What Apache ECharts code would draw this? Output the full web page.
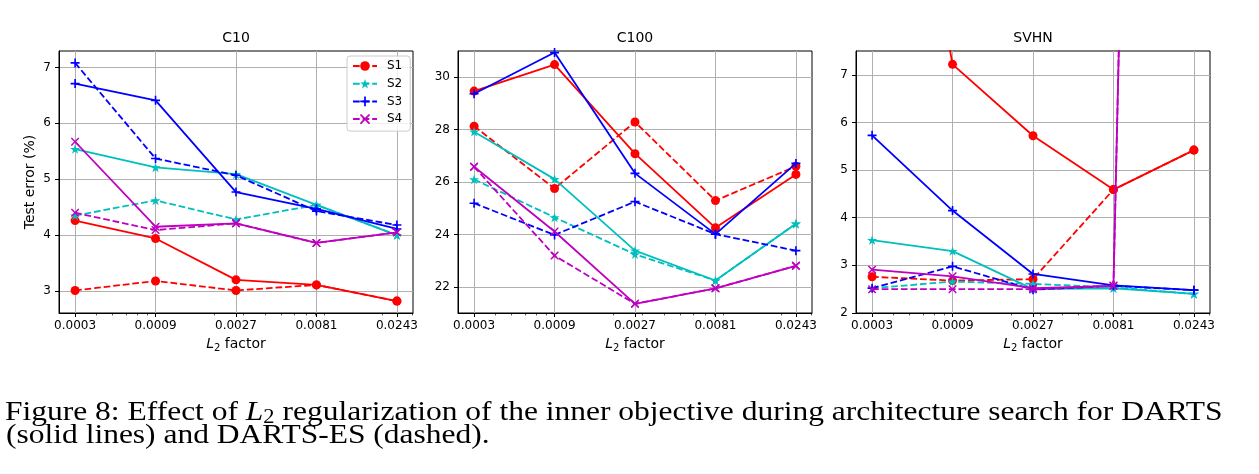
<!DOCTYPE html>
<html>
<head>
<meta charset="utf-8">
<script src="https://cdn.jsdelivr.net/npm/echarts@6/dist/echarts.min.js"></script>
<style>
html,body{margin:0;padding:0;background:#fff;}
#chart{width:1259px;height:474px;}
</style>
</head>
<body>
<div id="chart"></div>
<script>
// ---------- data ----------
const L2_FACTORS = ['0.0003', '0.0009', '0.0027', '0.0081', '0.0243'];
const MINOR_TICK_VALUES = [0.0004,0.0005,0.0006,0.0007,0.0008,0.0009,0.002,0.003,0.004,0.005,0.006,0.007,0.008,0.009,0.02,0.03];
const SERIES_NAMES = ['S1', 'S2', 'S3', 'S4'];
const PANEL_TITLES = ['C10', 'C100', 'SVHN'];

// DARTS (solid lines)
const C10_DARTS_S1 = [4.26, 3.94, 3.20, 3.11, 2.82];
const C10_DARTS_S2 = [5.54, 5.21, 5.09, 4.54, 4.00];
const C10_DARTS_S3 = [6.71, 6.41, 4.77, 4.47, 4.11];
const C10_DARTS_S4 = [5.67, 4.15, 4.21, 3.86, 4.05];
// DARTS-ES (dashed)
const C10_ES_S1 = [3.01, 3.18, 3.01, 3.11, 2.82];
const C10_ES_S2 = [4.35, 4.62, 4.28, 4.54, 4.00];
const C10_ES_S3 = [7.08, 5.37, 5.07, 4.43, 4.18];
const C10_ES_S4 = [4.40, 4.09, 4.21, 3.86, 4.05];

const C100_DARTS_S1 = [29.47, 30.48, 27.08, 24.25, 26.29];
const C100_DARTS_S2 = [27.92, 26.11, 23.38, 22.24, 24.41];
const C100_DARTS_S3 = [29.37, 30.94, 26.33, 24.01, 26.71];
const C100_DARTS_S4 = [26.58, 24.11, 21.35, 21.94, 22.80];
const C100_ES_S1 = [28.13, 25.75, 28.29, 25.29, 26.60];
const C100_ES_S2 = [26.10, 24.65, 23.24, 22.24, 24.41];
const C100_ES_S3 = [25.19, 23.98, 25.25, 24.01, 23.38];
const C100_ES_S4 = [26.58, 23.19, 21.35, 21.94, 22.80];

const SVHN_DARTS_S1 = [16.5, 7.22, 5.72, 4.59, 5.42];
const SVHN_DARTS_S2 = [3.53, 3.30, 2.50, 2.52, 2.40];
const SVHN_DARTS_S3 = [5.73, 4.15, 2.82, 2.58, 2.48];
const SVHN_DARTS_S4 = [2.91, 2.77, 2.52, 2.57, 77.0];
const SVHN_ES_S1 = [2.76, 2.68, 2.71, 4.59, 5.42];
const SVHN_ES_S2 = [2.52, 2.66, 2.61, 2.54, 2.40];
const SVHN_ES_S3 = [2.52, 2.98, 2.49, 2.57, 2.48];
const SVHN_ES_S4 = [2.50, 2.50, 2.50, 2.57, 77.0];

const Y_TICKS_C10 = [3, 4, 5, 6, 7];
const Y_TICKS_C100 = [22, 24, 26, 28, 30];
const Y_TICKS_SVHN = [2, 3, 4, 5, 6, 7];

// ---------- layout / style ----------
const FONT = 'DejaVu Sans';
const COLORS = ['#ff0000', '#00bfbf', '#0000ff', '#bf00bf'];

function starPath() {
  const pts = [];
  for (let i = 0; i < 10; i++) {
    const r = i % 2 === 0 ? 10 : 3.82;
    const a = -Math.PI / 2 + i * Math.PI / 5;
    pts.push((10 + r * Math.cos(a)).toFixed(3) + ',' + (10 + r * Math.sin(a)).toFixed(3));
  }
  return 'path://M' + pts.join(' L') + ' Z';
}
const PLUS_PATH = 'path://M4.1,0 L5.9,0 L5.9,4.1 L10,4.1 L10,5.9 L5.9,5.9 L5.9,10 L4.1,10 L4.1,5.9 L0,5.9 L0,4.1 L4.1,4.1 Z';
const X_PATH = 'path://M0,0 L1.3,0 L5,3.7 L8.7,0 L10,0 L10,1.3 L6.3,5 L10,8.7 L10,10 L8.7,10 L5,6.3 L1.3,10 L0,10 L0,8.7 L3.7,5 L0,1.3 Z';
const SYMBOLS = ['circle', starPath(), PLUS_PATH, X_PATH];
const SYMBOL_SIZES = [9, 10, 9, 8];

const GRIDS = [
  { left: 59, top: 51, width: 354, height: 262 },
  { left: 458, top: 51, width: 354, height: 262 },
  { left: 856, top: 51, width: 354, height: 262 }
];
const Y_RANGES = [[2.607, 7.293], [21, 31], [2, 7.5]];
const Y_TICKS = [Y_TICKS_C10, Y_TICKS_C100, Y_TICKS_SVHN];
const DARTS = [
  [C10_DARTS_S1, C10_DARTS_S2, C10_DARTS_S3, C10_DARTS_S4],
  [C100_DARTS_S1, C100_DARTS_S2, C100_DARTS_S3, C100_DARTS_S4],
  [SVHN_DARTS_S1, SVHN_DARTS_S2, SVHN_DARTS_S3, SVHN_DARTS_S4]
];
const ES = [
  [C10_ES_S1, C10_ES_S2, C10_ES_S3, C10_ES_S4],
  [C100_ES_S1, C100_ES_S2, C100_ES_S3, C100_ES_S4],
  [SVHN_ES_S1, SVHN_ES_S2, SVHN_ES_S3, SVHN_ES_S4]
];

const majorIdx = L2_FACTORS.map((_, i) => i);
const base = parseFloat(L2_FACTORS[0]);
const minorIdx = MINOR_TICK_VALUES.map(v => Math.log(v / base) / Math.log(3));

const xAxes = [], yAxes = [], series = [], graphics = [];
GRIDS.forEach((g, gi) => {
  xAxes.push({
    gridIndex: gi, type: 'value', min: -0.2, max: 4.2, position: 'bottom',
    axisLine: { show: true, onZero: false, lineStyle: { color: '#000', width: 1 } },
    axisTick: { show: true, customValues: majorIdx, length: 4, lineStyle: { color: '#000', width: 1 } },
    axisLabel: { customValues: majorIdx, formatter: v => L2_FACTORS[Math.round(v)], color: '#000', fontFamily: FONT, fontSize: 12, margin: 7 },
    splitLine: { show: true, lineStyle: { color: '#b0b0b0', width: 1 } }
  });
  yAxes.push({
    gridIndex: gi, type: 'value', min: Y_RANGES[gi][0], max: Y_RANGES[gi][1], position: 'left',
    axisLine: { show: true, onZero: false, lineStyle: { color: '#000', width: 1 } },
    axisTick: { show: true, customValues: Y_TICKS[gi], length: 4, lineStyle: { color: '#000', width: 1 } },
    axisLabel: { customValues: Y_TICKS[gi], color: '#000', fontFamily: FONT, fontSize: 12, margin: 8 },
    splitLine: { show: true, lineStyle: { color: '#b0b0b0', width: 1 } }
  });
});
GRIDS.forEach((g, gi) => {
  xAxes.push({
    gridIndex: gi, type: 'value', min: -0.2, max: 4.2, position: 'bottom',
    axisLine: { show: false, onZero: false },
    axisTick: { show: true, customValues: minorIdx, length: 2.4, lineStyle: { color: '#000', width: 0.7 } },
    axisLabel: { show: false },
    splitLine: { show: false }
  });
});

GRIDS.forEach((g, gi) => {
  SERIES_NAMES.forEach((name, si) => {
    // dashed (DARTS-ES) -- used for legend
    series.push({
      name: name, type: 'line', xAxisIndex: gi, yAxisIndex: gi,
      data: ES[gi][si].map((v, i) => [i, v]),
      symbol: SYMBOLS[si], symbolSize: SYMBOL_SIZES[si], symbolKeepAspect: true,
      showAllSymbol: true, clip: true, animation: false,
      lineStyle: { color: COLORS[si], width: 1.8, type: [6.7, 2.9] },
      itemStyle: { color: COLORS[si], opacity: 1 },
      z: 2 + si
    });
    series.push({
      name: name + ' DARTS', type: 'line', xAxisIndex: gi, yAxisIndex: gi,
      data: DARTS[gi][si].map((v, i) => [i, v]),
      symbol: SYMBOLS[si], symbolSize: SYMBOL_SIZES[si], symbolKeepAspect: true,
      showAllSymbol: true, clip: true, animation: false,
      lineStyle: { color: COLORS[si], width: 1.8, type: 'solid' },
      itemStyle: { color: COLORS[si], opacity: 1 },
      z: 2 + si
    });
  });
  // panel title
  graphics.push({
    type: 'text', x: g.left + g.width / 2, y: 38.5,
    style: { text: PANEL_TITLES[gi], fill: '#000', font: '14px "' + FONT + '"', textAlign: 'center', textVerticalAlign: 'middle' }
  });
  // x axis name
  graphics.push({
    type: 'text', x: g.left + g.width / 2, y: 344,
    style: {
      text: '{i|L}{s|2}{n| factor}', textAlign: 'center', textVerticalAlign: 'middle',
      rich: {
        i: { fontFamily: FONT, fontStyle: 'italic', fontSize: 14, fill: '#000' },
        s: { fontFamily: FONT, fontSize: 10, fill: '#000', padding: [9, 0, 0, 0] },
        n: { fontFamily: FONT, fontSize: 14, fill: '#000' }
      }
    }
  });
});

graphics.push({
  type: 'text', x: 30.5, y: 182, rotation: Math.PI / 2,
  style: { text: 'Test error (%)', fill: '#000', font: '14px "' + FONT + '"', textAlign: 'center', textVerticalAlign: 'middle' }
});

// caption
const SERIF = 'Liberation Serif';
const CAPTION_SCALE_X = 1.125;
graphics.push({
  type: 'text', x: 5, y: 412.5, scaleX: CAPTION_SCALE_X, scaleY: 1,
  style: {
    text: '{n|Figure 8: Effect of }{i|L}{s|2}{n| regularization of the inner objective during architecture search for DARTS}',
    textAlign: 'left', textVerticalAlign: 'middle',
    rich: {
      n: { fontFamily: SERIF, fontSize: 28, fill: '#000' },
      i: { fontFamily: SERIF, fontStyle: 'italic', fontSize: 28, fill: '#000' },
      s: { fontFamily: SERIF, fontSize: 20, fill: '#000', padding: [10, 0, 0, 0] }
    }
  }
});
graphics.push({
  type: 'text', x: 6, y: 435.5, scaleX: CAPTION_SCALE_X, scaleY: 1,
  style: { text: '(solid lines) and DARTS-ES (dashed).', fill: '#000', font: '28px "' + SERIF + '"', textAlign: 'left', textVerticalAlign: 'middle' }
});

const chart = echarts.init(document.getElementById('chart'), null, { renderer: 'canvas' });
chart.setOption({
  backgroundColor: '#fff',
  animation: false,
  grid: GRIDS.map(g => Object.assign({ show: true, borderColor: '#000', borderWidth: 1, backgroundColor: 'transparent', containLabel: false }, g)),
  xAxis: xAxes,
  yAxis: yAxes,
  legend: {
    data: SERIES_NAMES, orient: 'vertical', left: 347, top: 56,
    itemWidth: 24, itemHeight: 12, itemGap: 5.7,
    padding: [4, 8, 6, 5],
    backgroundColor: 'rgba(255,255,255,0.8)', borderColor: '#cccccc', borderWidth: 1, borderRadius: 3,
    textStyle: { fontFamily: FONT, fontSize: 12, color: '#000', padding: [0, 0, 0, 5] },
    selectedMode: false
  },
  series: series,
  graphic: graphics
});
</script>
</body>
</html>
